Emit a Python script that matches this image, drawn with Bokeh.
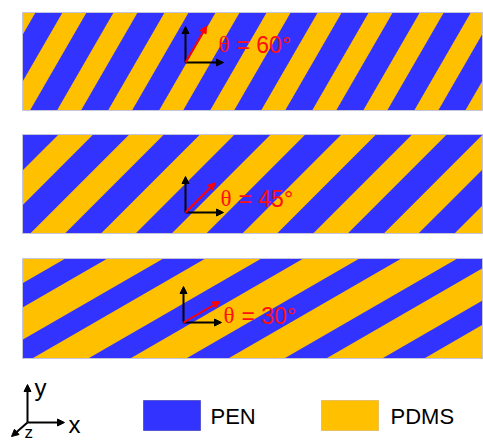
import math
from bokeh.plotting import figure
from bokeh.models import Range1d, Arrow, NormalHead
from bokeh.core.properties import value
from bokeh.embed import file_html
from bokeh.resources import INLINE

# ---- data ----
angles = [60, 45, 30]                       # stripe angle theta (deg)
angle_labels = ["60°", "45°", "30°"]
stripe_period = [44.2, 50.0, 49.0]          # PEN + PDMS pair width (px, perpendicular)
pen_width = [23.4, 25.5, 21.0]              # PEN stripe width (px, perpendicular)
stripe_phase = [36.3, 160.3, 255.9]         # offset of first PEN stripe edge
legend_names = ["PEN", "PDMS"]
legend_colors = ["#3333ff", "#ffc000"]

# ---- layout ----
panel_left, panel_right = 22, 482
panel_top = [12, 134, 258]
panel_bottom = [110, 233, 358]
origin_x = [185, 185, 183]
origin_y = [62, 212, 322]
label_x = [218, 220, 223]
label_y = [44, 198, 315]
BLUE, YELLOW = legend_colors

p = figure(width=483, height=443, output_backend="svg", toolbar_location=None,
           x_range=Range1d(0, 483), y_range=Range1d(443, 0), min_border=0)
p.axis.visible = False
p.grid.visible = False
p.outline_line_color = None
p.background_fill_color = "white"
p.border_fill_color = "white"


def clip_half(poly, sx, sy, c, sign):
    # keep points with sign*(sx*x+sy*y - c) >= 0
    out = []
    n = len(poly)
    for i in range(n):
        a = poly[i]
        b = poly[(i + 1) % n]
        fa = sign * (sx * a[0] + sy * a[1] - c)
        fb = sign * (sx * b[0] + sy * b[1] - c)
        if fa >= 0:
            out.append(a)
        if (fa >= 0) != (fb >= 0):
            t = fa / (fa - fb)
            out.append((a[0] + t * (b[0] - a[0]), a[1] + t * (b[1] - a[1])))
    return out


for i, th in enumerate(angles):
    t, b = panel_top[i], panel_bottom[i]
    rect = [(panel_left, t), (panel_right, t), (panel_right, b), (panel_left, b)]
    # PDMS background
    p.quad(left=[panel_left], right=[panel_right], top=[t], bottom=[b],
           fill_color=YELLOW, line_color=None)
    sx, sy = math.sin(math.radians(th)), math.cos(math.radians(th))
    svals = [sx * x + sy * y for x, y in rect]
    P, w, ph = stripe_period[i], pen_width[i], stripe_phase[i]
    k0 = math.floor((min(svals) - ph) / P) - 1
    k1 = math.ceil((max(svals) - ph) / P) + 1
    xs, ys = [], []
    for k in range(k0, k1 + 1):
        a0 = ph + k * P
        poly = clip_half(rect, sx, sy, a0, 1)
        if poly:
            poly = clip_half(poly, sx, sy, a0 + w, -1)
        if len(poly) >= 3:
            xs.append([q[0] for q in poly])
            ys.append([q[1] for q in poly])
    p.patches(xs, ys, fill_color=BLUE, line_color=None)
    # border
    p.quad(left=[panel_left], right=[panel_right], top=[t], bottom=[b],
           fill_color=None, line_color="#c4c4dc", line_width=1)

    # coordinate arrows
    ox, oy = origin_x[i], origin_y[i]
    p.add_layout(Arrow(x_start=ox, y_start=oy, x_end=ox, y_end=oy - 36,
                       line_color="black", line_width=2,
                       end=NormalHead(size=7, fill_color="black", line_color="black")))
    p.add_layout(Arrow(x_start=ox, y_start=oy, x_end=ox + 38, y_end=oy,
                       line_color="black", line_width=2,
                       end=NormalHead(size=7, fill_color="black", line_color="black")))
    L = 42
    p.add_layout(Arrow(x_start=ox, y_start=oy,
                       x_end=ox + L * math.cos(math.radians(th)),
                       y_end=oy - L * math.sin(math.radians(th)),
                       line_color="#ff0000", line_width=2,
                       end=NormalHead(size=7, fill_color="#ff0000", line_color="#ff0000")))
    p.text(x=[label_x[i]], y=[label_y[i]], text=["θ"],
           text_font=value("Liberation Serif"), text_font_size="23px",
           text_color="#ff1010", text_baseline="middle", text_align="left")
    p.text(x=[label_x[i] + 18], y=[label_y[i]], text=["= " + angle_labels[i]],
           text_font=value("Liberation Sans"), text_font_size="23px",
           text_color="#ff1010", text_baseline="middle", text_align="left")

# axes triad
tx, ty = 27, 422
for ex, ey in [(tx, ty - 38), (tx + 37, ty), (tx - 16, ty + 14)]:
    p.add_layout(Arrow(x_start=tx, y_start=ty, x_end=ex, y_end=ey,
                       line_color="black", line_width=2,
                       end=NormalHead(size=7, fill_color="black", line_color="black")))
p.text(x=[34, 68], y=[387, 424], text=["y", "x"],
       text_font=value("Liberation Sans"), text_font_size="24px",
       text_color="black", text_baseline="middle", text_align="left")
p.text(x=[24], y=[441], text=["z"],
       text_font=value("Liberation Sans"), text_font_size="17px",
       text_color="black", text_baseline="bottom", text_align="left")

# legend
leg_left = [143, 321]
leg_text_x = [210, 390]
p.quad(left=leg_left, right=[l + 57 for l in leg_left], top=[400, 400], bottom=[430, 430],
       fill_color=legend_colors, line_color=["#5a5ad0", "#e8c060"], line_width=1)
p.text(x=leg_text_x, y=[416, 416], text=legend_names,
       text_font=value("Liberation Sans"), text_font_size="22px",
       text_color="black", text_baseline="middle", text_align="left")

open("out.html", "w").write(file_html(p, INLINE))
